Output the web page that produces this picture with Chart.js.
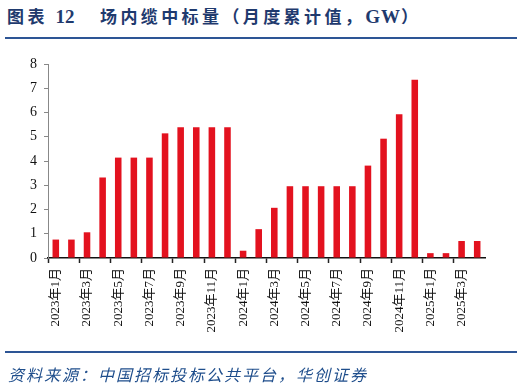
<!DOCTYPE html>
<html>
<head>
<meta charset="utf-8">
<script src="https://cdn.jsdelivr.net/npm/chart.js@4/dist/chart.umd.min.js"></script>
<style>
  html, body { margin: 0; padding: 0; background: #fff; }
  #wrap { position: relative; width: 524px; height: 387px; overflow: hidden; }
  .tt {
    position: absolute; top: 3px; white-space: nowrap;
    font-family: "Liberation Serif", "Noto Sans CJK SC"; font-weight: bold;
    font-size: 17px; letter-spacing: 3.4px; color: #1f3a6e;
  }
  .num { font-family: "Liberation Serif"; font-size: 19px; letter-spacing: 0; }
  .rule { position: absolute; left: 5px; width: 512px; height: 2px; background: #2d5595; }
  #source {
    position: absolute; left: 8px; top: 362px; white-space: nowrap;
    font-family: "Noto Sans CJK SC"; font-style: italic; font-size: 16px;
    letter-spacing: 2px; color: #1f4e8c;
  }
  #c { position: absolute; left: 0; top: 0; }
</style>
</head>
<body>
<div id="wrap">
  <div class="tt" style="left:7px">图表 <span class="num">12</span></div>
  <div class="tt" style="left:100px">场内缆中标量（月度累计值，<span style="font-family:'Liberation Serif';font-size:19px;letter-spacing:1px">GW</span>）</div>
  <div class="rule" style="top:37px"></div>
  <canvas id="c" width="524" height="387"></canvas>
  <div class="rule" style="top:351px"></div>
  <div id="source">资料来源：中国招标投标公共平台，华创证券</div>
</div>
<script>
'use strict';

// months 2023-01 .. 2025-04
const months = [
  '2023年1月','2023年2月','2023年3月','2023年4月','2023年5月','2023年6月',
  '2023年7月','2023年8月','2023年9月','2023年10月','2023年11月','2023年12月',
  '2024年1月','2024年2月','2024年3月','2024年4月','2024年5月','2024年6月',
  '2024年7月','2024年8月','2024年9月','2024年10月','2024年11月','2024年12月',
  '2025年1月','2025年2月','2025年3月','2025年4月'
];
// cumulative GW
const cumGW = [
  0.76, 0.76, 1.06, 3.32, 4.14, 4.14, 4.14, 5.14, 5.39, 5.39, 5.39, 5.39,
  0.30, 1.19, 2.07, 2.96, 2.96, 2.96, 2.96, 2.96, 3.81, 4.92, 5.93, 7.35,
  0.20, 0.20, 0.70, 0.70
];
const yTicks = [0, 1, 2, 3, 4, 5, 6, 7, 8];

const barRed = '#e3121f';
const tickFont = { family: '"Liberation Serif", "Noto Sans CJK SC"', size: 14 };

var ctx = document.getElementById('c').getContext('2d');

var chart = new Chart(ctx, {
  type: 'bar',
  data: {
    labels: months,
    datasets: [{
      label: '场内缆中标量',
      data: cumGW,
      backgroundColor: barRed,
      borderWidth: 0,
      categoryPercentage: 1,
      barPercentage: 0.42
    }]
  },
  options: {
    responsive: false,
    animation: false,
    layout: { padding: { left: 0, right: 39, top: 64, bottom: 0 } },
    plugins: { legend: { display: false }, tooltip: { enabled: false } },
    scales: {
      x: {
        afterFit: function(scale) { scale.height = 129; },
        grid: {
          offset: true,
          drawOnChartArea: false,
          drawTicks: true,
          tickLength: 5,
          tickWidth: 1.5,
          color: c => (c.index % 2 === 0 ? '#222' : 'rgba(0,0,0,0)'),
          tickColor: c => (c.index % 2 === 0 ? '#222' : 'rgba(0,0,0,0)')
        },
        border: { color: '#111', width: 1.5 },
        ticks: {
          autoSkip: false,
          minRotation: 90,
          maxRotation: 90,
          padding: 5,
          color: '#111',
          font: { family: tickFont.family, size: 13 },
          callback: function(v, i) { return i % 2 === 0 ? months[i] : ''; }
        }
      },
      y: {
        min: 0,
        max: 8,
        afterFit: function(scale) { scale.width = 48; },
        afterBuildTicks: function(scale) { scale.ticks = yTicks.map(v => ({ value: v })); },
        grid: { drawOnChartArea: false, drawTicks: true, tickLength: 4, color: '#888' },
        border: { color: '#888', width: 1 },
        ticks: { padding: 7, color: '#111', font: tickFont }
      }
    }
  }
});
</script>
</body>
</html>
